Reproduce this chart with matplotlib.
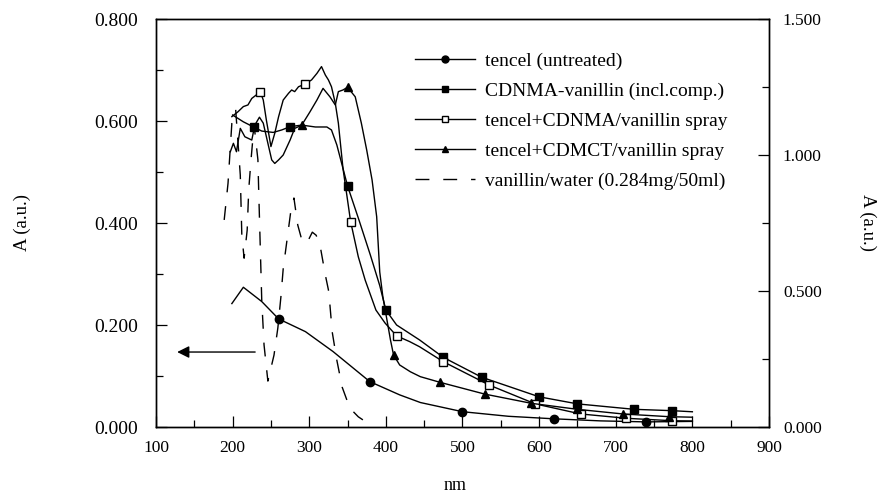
import numpy as np
import matplotlib
matplotlib.use("Agg")
import matplotlib.pyplot as plt
from matplotlib.ticker import MultipleLocator, FormatStrFormatter
from matplotlib.lines import Line2D

plt.rcParams['font.family'] = ['Liberation Serif', 'DejaVu Serif']

# tencel (untreated) - left axis
nm_tencel = [199, 214, 238, 260, 281, 295, 331, 379, 418, 445, 500, 560, 620, 680, 740, 800]
a_tencel = [0.242, 0.274, 0.246, 0.212, 0.197, 0.187, 0.148, 0.089, 0.063, 0.048,
            0.030, 0.021, 0.016, 0.012, 0.010, 0.011]
mk_tencel = [3, 7, 10, 12, 14]

# CDNMA-vanillin (incl.comp.) - right axis
nm_cdnma = [200, 214, 228, 238, 253, 264, 275, 290, 308, 323, 329, 336, 344, 350, 365,
            380, 392, 400, 414, 444, 475, 525, 600, 650, 724, 774, 800]
a_cdnma = [1.147, 1.122, 1.102, 1.088, 1.083, 1.092, 1.104, 1.110, 1.103, 1.103, 1.092,
           1.037, 0.951, 0.886, 0.760, 0.630, 0.520, 0.430, 0.375, 0.320, 0.256, 0.183,
           0.111, 0.085, 0.065, 0.060, 0.056]
mk_cdnma = [2, 6, 13, 17, 20, 21, 22, 23, 24, 25]

# tencel+CDNMA/vanillin spray - right axis
nm_spray = [199, 207, 214, 220, 225, 231, 236, 240, 244, 250, 255, 260, 266, 273, 277,
            281, 286, 294, 303, 310, 316, 321, 325, 329, 334, 338, 344, 354, 364, 373,
            387, 399, 414, 431, 444, 475, 535, 595, 654, 714, 774, 800]
a_spray = [1.141, 1.159, 1.178, 1.184, 1.208, 1.221, 1.233, 1.202, 1.129, 1.031, 1.080,
           1.141, 1.202, 1.227, 1.239, 1.233, 1.251, 1.260, 1.276, 1.300, 1.325, 1.294,
           1.276, 1.251, 1.190, 1.117, 0.951, 0.755, 0.626, 0.540, 0.430, 0.382, 0.335,
           0.314, 0.295, 0.240, 0.154, 0.085, 0.048, 0.032, 0.023, 0.022]
mk_spray = [6, 17, 27, 32, 35, 36, 37, 38, 39, 40]

# tencel+CDMCT/vanillin spray - right axis
nm_cdmct = [197, 201, 205, 210, 216, 225, 229, 235, 240, 247, 251, 255, 260, 266, 275,
            281, 290, 301, 310, 318, 327, 334, 338, 344, 350, 360, 368, 375, 382, 388,
            392, 396, 401, 406, 410, 418, 432, 445, 471, 529, 590, 650, 709, 769, 800]
a_cdmct = [1.012, 1.043, 1.012, 1.098, 1.067, 1.055, 1.110, 1.139, 1.117, 1.031, 0.982,
           0.969, 0.982, 1.000, 1.055, 1.098, 1.109, 1.159, 1.202, 1.245, 1.214, 1.184,
           1.233, 1.239, 1.249, 1.214, 1.117, 1.018, 0.908, 0.773, 0.570, 0.480, 0.400,
           0.320, 0.265, 0.228, 0.203, 0.185, 0.164, 0.121, 0.087, 0.065, 0.048, 0.038,
           0.036]
mk_cdmct = [16, 24, 34, 38, 39, 40, 41, 42, 43]

# vanillin/water (0.284mg/50ml) - left axis
nm_van = [189, 194, 199, 204, 210, 212, 215, 219, 221, 224, 228, 233, 234, 236, 238,
          241, 246, 254, 259, 263, 266, 271, 276, 280, 285, 291, 297, 304, 309, 314,
          321, 325, 327, 330, 336, 343, 353, 364, 370]
a_van = [0.406, 0.478, 0.596, 0.622, 0.494, 0.376, 0.331, 0.386, 0.465, 0.524, 0.592,
         0.524, 0.465, 0.357, 0.249, 0.161, 0.090, 0.141, 0.194, 0.255, 0.310, 0.367,
         0.424, 0.449, 0.396, 0.363, 0.361, 0.382, 0.376, 0.357, 0.298, 0.269, 0.239,
         0.186, 0.131, 0.078, 0.037, 0.020, 0.014]

labels = ['tencel (untreated)', 'CDNMA-vanillin (incl.comp.)',
          'tencel+CDNMA/vanillin spray', 'tencel+CDMCT/vanillin spray',
          'vanillin/water (0.284mg/50ml)']

fig = plt.figure(figsize=(8.83, 4.94), dpi=100)
ax = fig.add_axes([156/883, 1-427/494, 613/883, 408/494])
ax2 = ax.twinx()

lw = 1.0
dash = (10, 10)
ax.plot(nm_tencel, a_tencel, color='black', lw=lw, marker='o', ms=6,
        markevery=mk_tencel)
ax.plot(nm_van, a_van, color='black', lw=lw, dashes=dash)
ax2.plot(nm_cdnma, a_cdnma, color='black', lw=lw, marker='s', ms=6,
         markevery=mk_cdnma)
ax2.plot(nm_spray, a_spray, color='black', lw=lw, marker='s', ms=6,
         markerfacecolor='white', markevery=mk_spray)
ax2.plot(nm_cdmct, a_cdmct, color='black', lw=lw, marker='^', ms=6,
         markevery=mk_cdmct)

# axes
ax.set_xlim(100, 900)
ax.set_ylim(0, 0.8)
ax2.set_ylim(0, 1.5)
ax.xaxis.set_major_locator(MultipleLocator(100))
ax.xaxis.set_minor_locator(MultipleLocator(50))
ax.yaxis.set_major_locator(MultipleLocator(0.2))
ax.yaxis.set_minor_locator(MultipleLocator(0.1))
ax.yaxis.set_major_formatter(FormatStrFormatter('%.3f'))
ax2.yaxis.set_major_locator(MultipleLocator(0.5))
ax2.yaxis.set_minor_locator(MultipleLocator(0.25))
ax2.yaxis.set_major_formatter(FormatStrFormatter('%.3f'))

ax.tick_params(axis='x', which='both', direction='in', top=False, labelsize=12.5, pad=9)
ax.tick_params(axis='y', which='both', direction='in', right=False, labelsize=14, pad=13)
ax2.tick_params(axis='y', which='both', direction='in', labelsize=12.5, pad=10)
for a in (ax, ax2):
    a.tick_params(which='major', length=8, width=0.9)
    a.tick_params(which='minor', length=5, width=0.9)
    for s in a.spines.values():
        s.set_linewidth(1.0)

ax.set_xlabel('nm', fontsize=13)
ax.xaxis.set_label_coords(0.488, -0.1225)
ax.set_ylabel('A (a.u.)', fontsize=13.5, va='center')
ax.yaxis.set_label_coords(-0.2186, 0.502)
ax2.set_ylabel('A (a.u.)', fontsize=13.5, rotation=270, va='center')
ax2.yaxis.set_label_coords(1.1615, 0.502)

# arrow pointing to the left axis
ax.annotate('', xy=(124, 0.147), xytext=(233, 0.147),
            arrowprops=dict(arrowstyle='-|>', color='black', lw=1.0, mutation_scale=18))

# legend
handles = [
    Line2D([], [], color='black', lw=lw, marker='o', ms=5),
    Line2D([], [], color='black', lw=lw, marker='s', ms=5),
    Line2D([], [], color='black', lw=lw, marker='s', ms=5, markerfacecolor='white'),
    Line2D([], [], color='black', lw=lw, marker='^', ms=5),
    Line2D([], [], color='black', lw=lw, dashes=dash),
]
ax2.legend(handles, labels, loc='upper left', bbox_to_anchor=(415/883, 1-52/494),
           bbox_transform=fig.transFigure, frameon=False, fontsize=14,
           handlelength=3.1, handletextpad=0.5, labelspacing=0.64,
           borderpad=0, borderaxespad=0)

fig.savefig('out.png', dpi=100)
